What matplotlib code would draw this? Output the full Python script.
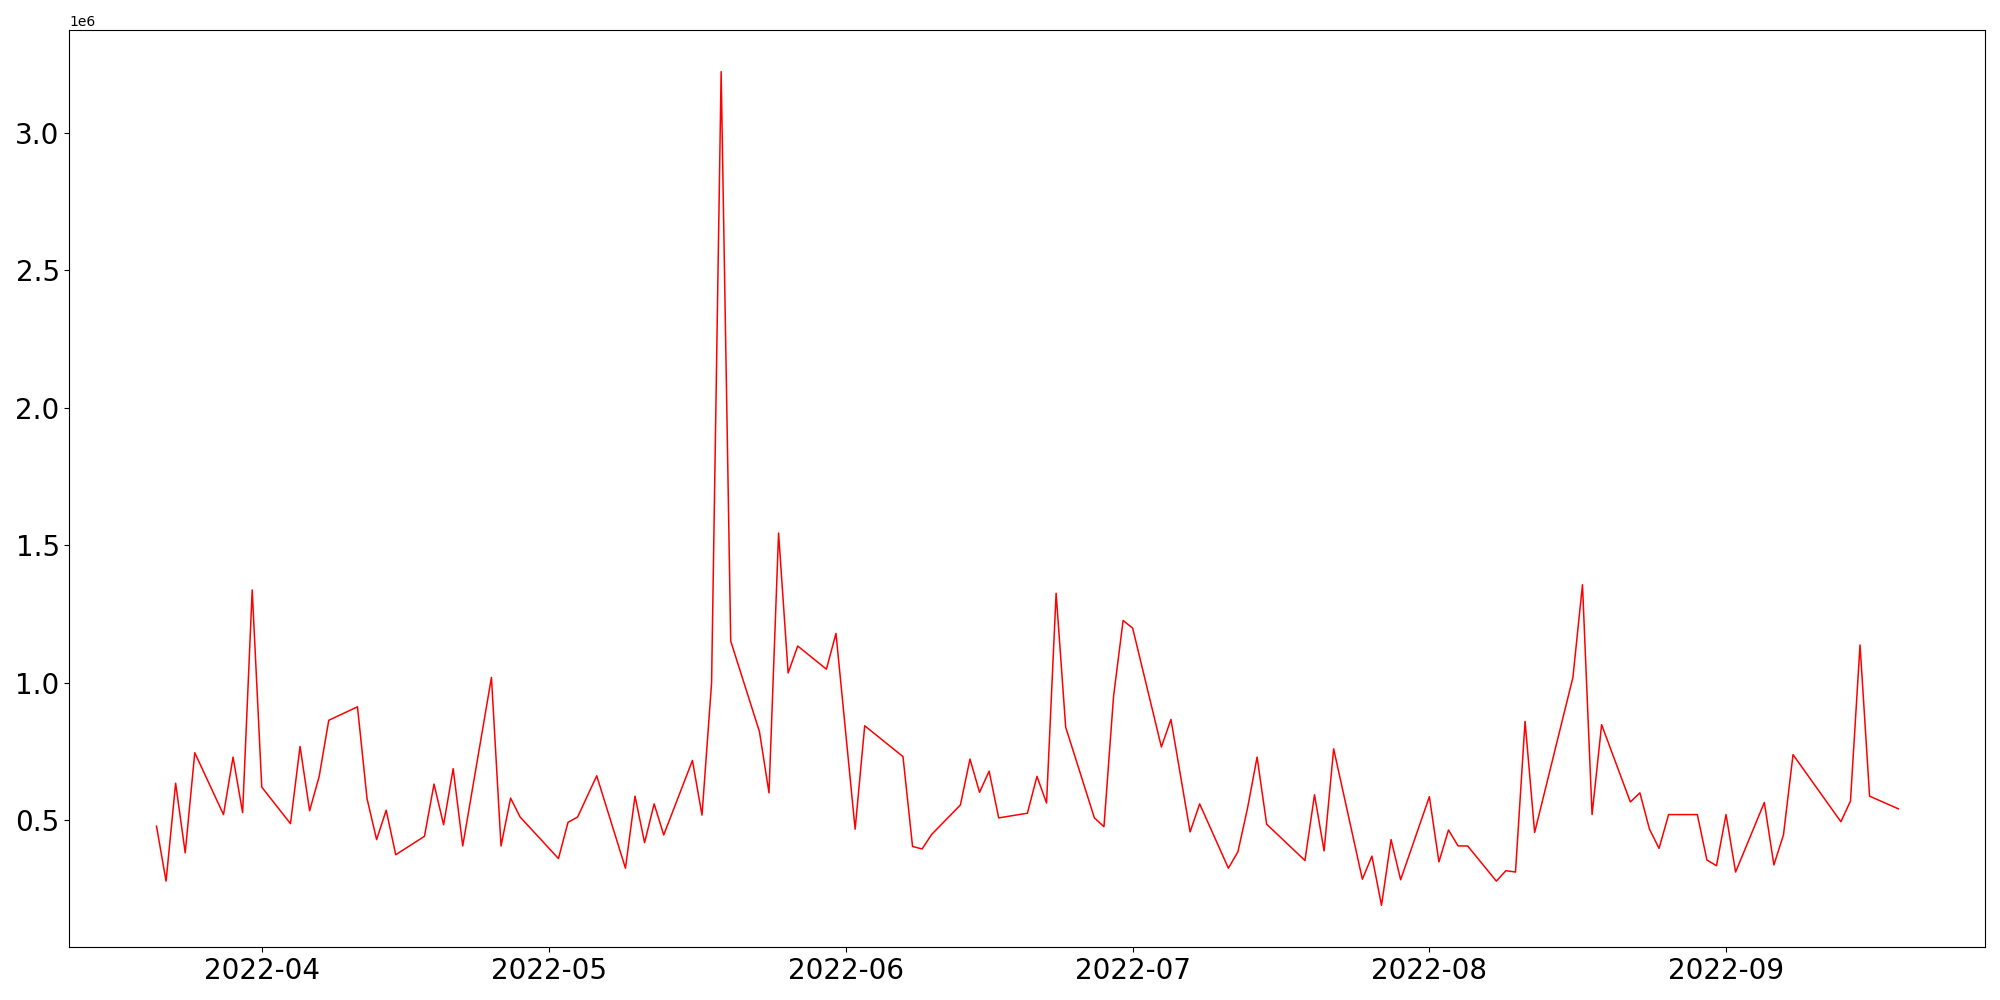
import numpy as np
import pandas as pd
import matplotlib
matplotlib.use("Agg")
import matplotlib.pyplot as plt

# daily values (in units of 1e6)
dates = [
    "2022-03-21", "2022-03-22", "2022-03-23", "2022-03-24", "2022-03-25",
    "2022-03-28", "2022-03-29", "2022-03-30", "2022-03-31", "2022-04-01",
    "2022-04-04", "2022-04-05", "2022-04-06", "2022-04-07", "2022-04-08",
    "2022-04-11", "2022-04-12", "2022-04-13", "2022-04-14", "2022-04-15",
    "2022-04-18", "2022-04-19", "2022-04-20", "2022-04-21", "2022-04-22",
    "2022-04-25", "2022-04-26", "2022-04-27", "2022-04-28",
    "2022-05-02", "2022-05-03", "2022-05-04", "2022-05-06",
    "2022-05-09", "2022-05-10", "2022-05-11", "2022-05-12", "2022-05-13",
    "2022-05-16", "2022-05-17", "2022-05-18", "2022-05-19", "2022-05-20",
    "2022-05-23", "2022-05-24", "2022-05-25", "2022-05-26", "2022-05-27",
    "2022-05-30", "2022-05-31", "2022-06-02", "2022-06-03",
    "2022-06-07", "2022-06-08", "2022-06-09", "2022-06-10",
    "2022-06-13", "2022-06-14", "2022-06-15", "2022-06-16", "2022-06-17",
    "2022-06-20", "2022-06-21", "2022-06-22", "2022-06-23", "2022-06-24",
    "2022-06-27", "2022-06-28", "2022-06-29", "2022-06-30", "2022-07-01",
    "2022-07-04", "2022-07-05", "2022-07-07", "2022-07-08",
    "2022-07-11", "2022-07-12", "2022-07-13", "2022-07-14", "2022-07-15",
    "2022-07-19", "2022-07-20", "2022-07-21", "2022-07-22",
    "2022-07-25", "2022-07-26", "2022-07-27", "2022-07-28", "2022-07-29",
    "2022-08-01", "2022-08-02", "2022-08-03", "2022-08-04", "2022-08-05",
    "2022-08-08", "2022-08-09", "2022-08-10", "2022-08-11", "2022-08-12",
    "2022-08-16", "2022-08-17", "2022-08-18", "2022-08-19",
    "2022-08-22", "2022-08-23", "2022-08-24", "2022-08-25", "2022-08-26",
    "2022-08-29", "2022-08-30", "2022-08-31", "2022-09-01", "2022-09-02",
    "2022-09-05", "2022-09-06", "2022-09-07", "2022-09-08",
    "2022-09-13", "2022-09-14", "2022-09-15", "2022-09-16",
    "2022-09-19",
]
values = [
    0.479, 0.279, 0.635, 0.382, 0.746,
    0.521, 0.730, 0.528, 1.338, 0.621,
    0.488, 0.769, 0.535, 0.660, 0.864,
    0.913, 0.579, 0.430, 0.537, 0.375,
    0.442, 0.632, 0.484, 0.688, 0.407,
    1.020, 0.407, 0.581, 0.512,
    0.361, 0.493, 0.512, 0.662,
    0.326, 0.588, 0.419, 0.560, 0.447,
    0.718, 0.519, 0.999, 3.223, 1.152,
    0.823, 0.600, 1.545, 1.036, 1.134,
    1.050, 1.180, 0.468, 0.844,
    0.732, 0.405, 0.396, 0.449,
    0.556, 0.723, 0.602, 0.679, 0.509,
    0.526, 0.660, 0.563, 1.326, 0.839,
    0.509, 0.477, 0.950, 1.227, 1.199,
    0.767, 0.867, 0.458, 0.560,
    0.326, 0.386, 0.544, 0.730, 0.486,
    0.354, 0.593, 0.389, 0.760,
    0.286, 0.370, 0.191, 0.430, 0.284,
    0.586, 0.349, 0.465, 0.407, 0.407,
    0.279, 0.317, 0.312, 0.860, 0.456,
    1.020, 1.357, 0.521, 0.848,
    0.567, 0.600, 0.468, 0.398, 0.521,
    0.521, 0.356, 0.335, 0.521, 0.312,
    0.565, 0.338, 0.447, 0.739,
    0.495, 0.570, 1.138, 0.588,
    0.542,
]

x = pd.to_datetime(dates)
y = np.array(values) * 1e6

fig, ax = plt.subplots(figsize=(20, 10), dpi=100)
fig.subplots_adjust(left=0.0347, right=0.9927, top=0.970, bottom=0.053)

ax.plot(x, y, color="red", linewidth=1.1)

plt.xticks(fontsize=20)
plt.yticks(fontsize=20)

plt.savefig("out.png", dpi=100)
plt.close()
